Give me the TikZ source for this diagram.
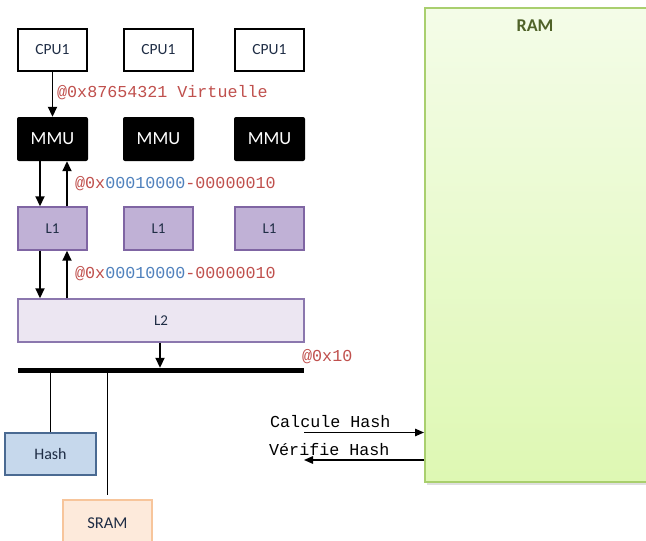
\documentclass[tikz,border=0pt]{standalone}
\usepackage{fontspec}
\setmainfont{Carlito}
\newfontfamily\codefont{Liberation Mono}
\usetikzlibrary{arrows.meta,shadows}

\definecolor{boxtext}{HTML}{1F2D45}
\definecolor{addrred}{HTML}{C0504D}
\definecolor{addrblue}{HTML}{4F81BD}
\definecolor{lonefill}{HTML}{C0B1D6}
\definecolor{loneline}{HTML}{7F65A3}
\definecolor{ltwofill}{HTML}{ECE6F2}
\definecolor{ltwoline}{HTML}{8B77AE}
\definecolor{hashfill}{HTML}{C6D8EC}
\definecolor{hashline}{HTML}{4A6A92}
\definecolor{sramfill}{HTML}{FDEADB}
\definecolor{sramline}{HTML}{F7C59B}
\definecolor{ramtop}{HTML}{F4FCE8}
\definecolor{rambottom}{HTML}{DEF8B3}
\definecolor{ramline}{HTML}{A9CF6E}
\definecolor{ramtext}{HTML}{4F6228}

\tikzset{
  cpubox/.style={draw=black, line width=1.4pt, fill=white, text=boxtext,
    minimum width=69pt, minimum height=42pt, inner sep=0pt, font=\fontsize{15.5}{17}\selectfont},
  mmubox/.style={fill=black, text=white, rounded corners=2pt,
    minimum width=71pt, minimum height=44pt, inner sep=0pt, font=\fontsize{18.5}{20}\selectfont},
  lonebox/.style={draw=loneline, line width=1.4pt, fill=lonefill, text=boxtext,
    minimum width=69pt, minimum height=43pt, inner sep=0pt, font=\fontsize{15}{17}\selectfont},
  ltwobox/.style={draw=ltwoline, line width=1.4pt, fill=ltwofill, text=boxtext,
    minimum width=286pt, minimum height=43pt, inner sep=0pt, font=\fontsize{15}{17}\selectfont},
  hashbox/.style={draw=hashline, line width=1.5pt, fill=hashfill, text=boxtext,
    minimum width=91pt, minimum height=42pt, inner sep=0pt, font=\fontsize{16}{18}\selectfont},
  srambox/.style={draw=sramline, line width=1.4pt, fill=sramfill, text=boxtext,
    minimum width=89pt, minimum height=46pt, inner sep=0pt, font=\fontsize{16.5}{18}\selectfont},
  addr/.style={anchor=base west, inner sep=0pt, font=\codefont\fontsize{16.7}{18}\selectfont},
  arr/.style={line width=1.8pt, -{Triangle[length=10pt,width=9pt]}},
  thinarr/.style={line width=1.4pt, -{Triangle[length=9pt,width=7.5pt]}},
  wire/.style={line width=1.8pt},
}

\begin{document}
\begin{tikzpicture}[x=1pt,y=-1pt]
\useasboundingbox (0,0) rectangle (646,541);
\clip (0,0) rectangle (646,541);
\fill[white] (0,0) rectangle (646,541);

% main memory
\node[draw=ramline, line width=1.5pt, top color=ramtop, bottom color=rambottom,
      drop shadow={opacity=0.25, shadow xshift=2pt, shadow yshift=-3pt},
      minimum width=230pt, minimum height=474pt, inner sep=0pt, anchor=north west]
      (ram) at (424,7) {};
\node[text=ramtext, font=\bfseries\fontsize{18}{20}\selectfont] (ramlabel) at (535,26) {RAM};

% processors
\node[cpubox] (cpuA) at (52.5,50) {CPU1};
\node[cpubox] (cpuB) at (158.5,50) {CPU1};
\node[cpubox] (cpuC) at (269.5,50) {CPU1};

\node[mmubox] (mmuA) at (52.5,139) {MMU};
\node[mmubox] (mmuB) at (158.5,139) {MMU};
\node[mmubox] (mmuC) at (269.5,139) {MMU};

\node[lonebox] (loneA) at (52.5,228.5) {L1};
\node[lonebox] (loneB) at (158.5,228.5) {L1};
\node[lonebox] (loneC) at (269.5,228.5) {L1};

\node[ltwobox] (ltwo) at (161,320.5) {L2};

% bus
\node[fill=black, minimum width=286pt, minimum height=5pt, inner sep=0pt] (bus) at (161,370.5) {};

\node[hashbox] (hash) at (50.5,454) {Hash};
\node[srambox] (sram) at (107.5,523) {SRAM};

% connections
\draw[arr] (cpuA.south) -- (mmuA.north);
\draw[arr] ([xshift=-12.5pt]mmuA.south) -- ([xshift=-12.5pt]loneA.north);
\draw[arr] ([xshift=14.5pt]loneA.north) -- ([xshift=14.5pt]mmuA.south);
\draw[arr] ([xshift=-12.5pt]loneA.south) -- ([xshift=-12.5pt]ltwo.north -| loneA);
\draw[arr] ([xshift=14.5pt]ltwo.north -| loneA) -- ([xshift=14.5pt]loneA.south);
\draw[arr] ([xshift=-1pt]ltwo.south) -- ([xshift=-1pt]bus.north);
\draw[wire] (bus.south -| hash.north) -- (hash.north);
\draw[wire, shorten >=4pt] (bus.south -| sram.north) -- (sram.north);

% address labels
\node[addr, text=addrred] (vaddr) at (57,97.5) {@0x87654321 Virtuelle};
\node[addr] (paddrA) at (75,188.5) {\textcolor{addrred}{@0x}\textcolor{addrblue}{00010000}\textcolor{addrred}{-00000010}};
\node[addr] (paddrB) at (75,278.5) {\textcolor{addrred}{@0x}\textcolor{addrblue}{00010000}\textcolor{addrred}{-00000010}};
\node[addr, text=addrred] (busaddr) at (302,361.5) {@0x10};

% hash exchange with the memory
\node[addr, text=black] (calc) at (270,427) {Calcule Hash};
\node[addr, text=black] (verif) at (269,455) {Vérifie Hash};
\coordinate (calcstart) at (304,432.5);
\coordinate (veriftip) at (304,460);
\draw[thinarr] (calcstart) -- (calcstart -| ram.west);
\draw[thinarr] (veriftip -| ram.west) -- (veriftip);
\end{tikzpicture}
\end{document}
